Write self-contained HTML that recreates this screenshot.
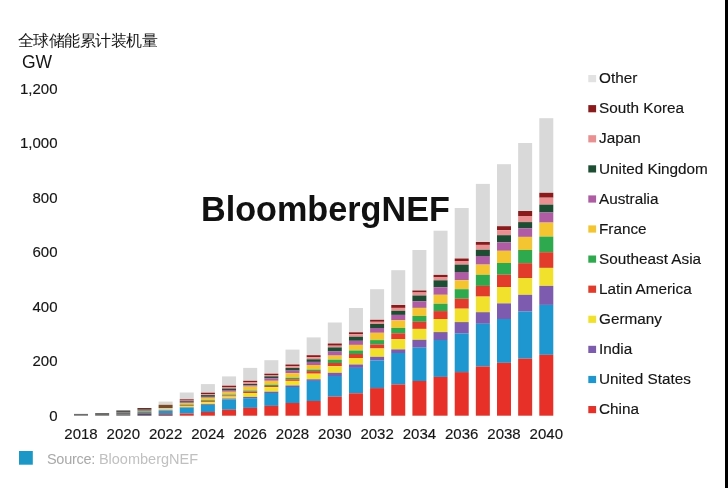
<!DOCTYPE html>
<html><head><meta charset="utf-8">
<style>
html,body{margin:0;padding:0;background:#fff;}
body{width:728px;height:488px;overflow:hidden;position:relative;font-family:"Liberation Sans",sans-serif;}
svg{position:absolute;left:0;top:0;}
.ax{font-family:"Liberation Sans",sans-serif;font-size:15px;fill:#151515;stroke:#151515;stroke-width:0.15px;}
.lg{font-family:"Liberation Sans",sans-serif;font-size:15.3px;fill:#151515;stroke:#151515;stroke-width:0.15px;}
</style></head><body>
<svg width="728" height="488" viewBox="0 0 728 488">
<defs>
<filter id="jpg" x="-20" y="-20" width="768" height="528" filterUnits="userSpaceOnUse" color-interpolation-filters="sRGB">
<feColorMatrix in="SourceGraphic" type="matrix" values="0.299 0.587 0.114 0 0 0 0 0 0 0 0 0 0 0 0 0 0 0 1 0" result="Y"/>
<feGaussianBlur in="Y" stdDeviation="0.45" result="Yb"/>
<feColorMatrix in="SourceGraphic" type="matrix" values="0 0 0 0 0 -0.1687 -0.3313 0.5 0 0.5 0.5 -0.4187 -0.0813 0 0.5 0 0 0 1 0" result="C"/>
<feGaussianBlur in="C" stdDeviation="1.2" result="Cb"/>
<feComposite in="Yb" in2="Cb" operator="arithmetic" k1="0" k2="1" k3="1" k4="0" result="YCC"/>
<feColorMatrix in="YCC" type="matrix" values="1 0 1.402 0 -0.70375 1 -0.344 -0.714 0 0.53107 1 1.772 0 0 -0.88947 0 0 0 1 0"/>
</filter>
</defs>
<g filter="url(#jpg)">
<rect x="-20" y="-20" width="768" height="528" fill="#fff"/>
<text x="17.8" y="46" style="font-family:'Liberation Sans',sans-serif;font-size:16px;letter-spacing:-0.5px;font-weight:300;fill:#151515">全球储能累计装机量</text>
<text x="22" y="67.8" style="font-family:'Liberation Sans',sans-serif;font-size:17.5px;fill:#151515">GW</text>
<text x="57.5" y="420.8" text-anchor="end" class="ax">0</text><text x="57.5" y="366.3" text-anchor="end" class="ax">200</text><text x="57.5" y="311.8" text-anchor="end" class="ax">400</text><text x="57.5" y="257.2" text-anchor="end" class="ax">600</text><text x="57.5" y="202.7" text-anchor="end" class="ax">800</text><text x="57.5" y="148.2" text-anchor="end" class="ax">1,000</text><text x="57.5" y="93.7" text-anchor="end" class="ax">1,200</text>
<rect x="179.75" y="392.50" width="14" height="6.80" fill="#d9d9d9"/><rect x="179.75" y="399.30" width="14" height="1.30" fill="#8b1a1e"/><rect x="179.75" y="400.60" width="14" height="0.60" fill="#ea8f92"/><rect x="179.75" y="401.20" width="14" height="0.90" fill="#1e4d35"/><rect x="179.75" y="402.10" width="14" height="0.90" fill="#b05ca5"/><rect x="179.75" y="403.00" width="14" height="1.50" fill="#f5c431"/><rect x="179.75" y="404.50" width="14" height="0.80" fill="#2fa84f"/><rect x="179.75" y="405.30" width="14" height="0.70" fill="#e33a2c"/><rect x="179.75" y="406.00" width="14" height="1.20" fill="#f3e02e"/><rect x="179.75" y="407.20" width="14" height="0.40" fill="#7d5bb0"/><rect x="179.75" y="407.60" width="14" height="6.00" fill="#1f96d0"/><rect x="179.75" y="413.60" width="14" height="2.10" fill="#e8302a"/><rect x="200.90" y="384.10" width="14" height="8.60" fill="#d9d9d9"/><rect x="200.90" y="392.70" width="14" height="1.50" fill="#8b1a1e"/><rect x="200.90" y="394.20" width="14" height="0.90" fill="#ea8f92"/><rect x="200.90" y="395.10" width="14" height="1.70" fill="#1e4d35"/><rect x="200.90" y="396.80" width="14" height="1.00" fill="#b05ca5"/><rect x="200.90" y="397.80" width="14" height="2.40" fill="#f5c431"/><rect x="200.90" y="400.20" width="14" height="1.00" fill="#2fa84f"/><rect x="200.90" y="401.20" width="14" height="1.00" fill="#e33a2c"/><rect x="200.90" y="402.20" width="14" height="1.80" fill="#f3e02e"/><rect x="200.90" y="404.00" width="14" height="0.80" fill="#7d5bb0"/><rect x="200.90" y="404.80" width="14" height="7.20" fill="#1f96d0"/><rect x="200.90" y="412.00" width="14" height="3.70" fill="#e8302a"/><rect x="222.05" y="376.40" width="14" height="9.30" fill="#d9d9d9"/><rect x="222.05" y="385.70" width="14" height="1.30" fill="#8b1a1e"/><rect x="222.05" y="387.00" width="14" height="1.50" fill="#ea8f92"/><rect x="222.05" y="388.50" width="14" height="1.50" fill="#1e4d35"/><rect x="222.05" y="390.00" width="14" height="1.80" fill="#b05ca5"/><rect x="222.05" y="391.80" width="14" height="2.70" fill="#f5c431"/><rect x="222.05" y="394.50" width="14" height="1.00" fill="#2fa84f"/><rect x="222.05" y="395.50" width="14" height="1.00" fill="#e33a2c"/><rect x="222.05" y="396.50" width="14" height="2.00" fill="#f3e02e"/><rect x="222.05" y="398.50" width="14" height="1.00" fill="#7d5bb0"/><rect x="222.05" y="399.50" width="14" height="10.30" fill="#1f96d0"/><rect x="222.05" y="409.80" width="14" height="5.90" fill="#e8302a"/><rect x="243.20" y="367.90" width="14" height="12.90" fill="#d9d9d9"/><rect x="243.20" y="380.80" width="14" height="1.60" fill="#8b1a1e"/><rect x="243.20" y="382.40" width="14" height="1.60" fill="#ea8f92"/><rect x="243.20" y="384.00" width="14" height="1.30" fill="#1e4d35"/><rect x="243.20" y="385.30" width="14" height="1.30" fill="#b05ca5"/><rect x="243.20" y="386.60" width="14" height="3.90" fill="#f5c431"/><rect x="243.20" y="390.50" width="14" height="1.20" fill="#2fa84f"/><rect x="243.20" y="391.70" width="14" height="1.30" fill="#e33a2c"/><rect x="243.20" y="393.00" width="14" height="3.90" fill="#f3e02e"/><rect x="243.20" y="396.90" width="14" height="1.30" fill="#7d5bb0"/><rect x="243.20" y="398.20" width="14" height="9.70" fill="#1f96d0"/><rect x="243.20" y="407.90" width="14" height="7.80" fill="#e8302a"/><rect x="264.35" y="360.20" width="14" height="13.50" fill="#d9d9d9"/><rect x="264.35" y="373.70" width="14" height="1.30" fill="#8b1a1e"/><rect x="264.35" y="375.00" width="14" height="1.30" fill="#ea8f92"/><rect x="264.35" y="376.30" width="14" height="1.90" fill="#1e4d35"/><rect x="264.35" y="378.20" width="14" height="2.60" fill="#b05ca5"/><rect x="264.35" y="380.80" width="14" height="3.90" fill="#f5c431"/><rect x="264.35" y="384.70" width="14" height="1.30" fill="#2fa84f"/><rect x="264.35" y="386.00" width="14" height="1.20" fill="#e33a2c"/><rect x="264.35" y="387.20" width="14" height="4.50" fill="#f3e02e"/><rect x="264.35" y="391.70" width="14" height="1.30" fill="#7d5bb0"/><rect x="264.35" y="393.00" width="14" height="12.90" fill="#1f96d0"/><rect x="264.35" y="405.90" width="14" height="9.80" fill="#e8302a"/><rect x="285.50" y="349.60" width="14" height="14.90" fill="#d9d9d9"/><rect x="285.50" y="364.50" width="14" height="1.80" fill="#8b1a1e"/><rect x="285.50" y="366.30" width="14" height="1.70" fill="#ea8f92"/><rect x="285.50" y="368.00" width="14" height="2.60" fill="#1e4d35"/><rect x="285.50" y="370.60" width="14" height="2.60" fill="#b05ca5"/><rect x="285.50" y="373.20" width="14" height="4.60" fill="#f5c431"/><rect x="285.50" y="377.80" width="14" height="1.50" fill="#2fa84f"/><rect x="285.50" y="379.30" width="14" height="1.60" fill="#e33a2c"/><rect x="285.50" y="380.90" width="14" height="4.60" fill="#f3e02e"/><rect x="285.50" y="385.50" width="14" height="1.50" fill="#7d5bb0"/><rect x="285.50" y="387.00" width="14" height="16.00" fill="#1f96d0"/><rect x="285.50" y="403.00" width="14" height="12.70" fill="#e8302a"/><rect x="306.65" y="337.40" width="14" height="17.80" fill="#d9d9d9"/><rect x="306.65" y="355.20" width="14" height="2.00" fill="#8b1a1e"/><rect x="306.65" y="357.20" width="14" height="2.10" fill="#ea8f92"/><rect x="306.65" y="359.30" width="14" height="2.60" fill="#1e4d35"/><rect x="306.65" y="361.90" width="14" height="3.10" fill="#b05ca5"/><rect x="306.65" y="365.00" width="14" height="4.60" fill="#f5c431"/><rect x="306.65" y="369.60" width="14" height="1.50" fill="#2fa84f"/><rect x="306.65" y="371.10" width="14" height="2.60" fill="#e33a2c"/><rect x="306.65" y="373.70" width="14" height="5.60" fill="#f3e02e"/><rect x="306.65" y="379.30" width="14" height="1.60" fill="#7d5bb0"/><rect x="306.65" y="380.90" width="14" height="20.10" fill="#1f96d0"/><rect x="306.65" y="401.00" width="14" height="14.70" fill="#e8302a"/><rect x="327.80" y="322.50" width="14" height="21.00" fill="#d9d9d9"/><rect x="327.80" y="343.50" width="14" height="2.20" fill="#8b1a1e"/><rect x="327.80" y="345.70" width="14" height="1.70" fill="#ea8f92"/><rect x="327.80" y="347.40" width="14" height="4.10" fill="#1e4d35"/><rect x="327.80" y="351.50" width="14" height="4.10" fill="#b05ca5"/><rect x="327.80" y="355.60" width="14" height="4.10" fill="#f5c431"/><rect x="327.80" y="359.70" width="14" height="3.30" fill="#2fa84f"/><rect x="327.80" y="363.00" width="14" height="3.20" fill="#e33a2c"/><rect x="327.80" y="366.20" width="14" height="6.60" fill="#f3e02e"/><rect x="327.80" y="372.80" width="14" height="3.20" fill="#7d5bb0"/><rect x="327.80" y="376.00" width="14" height="20.60" fill="#1f96d0"/><rect x="327.80" y="396.60" width="14" height="19.10" fill="#e8302a"/><rect x="348.95" y="308.00" width="14" height="24.30" fill="#d9d9d9"/><rect x="348.95" y="332.30" width="14" height="2.00" fill="#8b1a1e"/><rect x="348.95" y="334.30" width="14" height="2.40" fill="#ea8f92"/><rect x="348.95" y="336.70" width="14" height="4.10" fill="#1e4d35"/><rect x="348.95" y="340.80" width="14" height="4.10" fill="#b05ca5"/><rect x="348.95" y="344.90" width="14" height="5.60" fill="#f5c431"/><rect x="348.95" y="350.50" width="14" height="3.50" fill="#2fa84f"/><rect x="348.95" y="354.00" width="14" height="4.00" fill="#e33a2c"/><rect x="348.95" y="358.00" width="14" height="6.50" fill="#f3e02e"/><rect x="348.95" y="364.50" width="14" height="3.40" fill="#7d5bb0"/><rect x="348.95" y="367.90" width="14" height="25.40" fill="#1f96d0"/><rect x="348.95" y="393.30" width="14" height="22.40" fill="#e8302a"/><rect x="370.10" y="289.20" width="14" height="30.60" fill="#d9d9d9"/><rect x="370.10" y="319.80" width="14" height="2.00" fill="#8b1a1e"/><rect x="370.10" y="321.80" width="14" height="2.20" fill="#ea8f92"/><rect x="370.10" y="324.00" width="14" height="4.00" fill="#1e4d35"/><rect x="370.10" y="328.00" width="14" height="4.80" fill="#b05ca5"/><rect x="370.10" y="332.80" width="14" height="7.30" fill="#f5c431"/><rect x="370.10" y="340.10" width="14" height="4.30" fill="#2fa84f"/><rect x="370.10" y="344.40" width="14" height="4.10" fill="#e33a2c"/><rect x="370.10" y="348.50" width="14" height="8.30" fill="#f3e02e"/><rect x="370.10" y="356.80" width="14" height="3.60" fill="#7d5bb0"/><rect x="370.10" y="360.40" width="14" height="27.70" fill="#1f96d0"/><rect x="370.10" y="388.10" width="14" height="27.60" fill="#e8302a"/><rect x="391.25" y="270.20" width="14" height="34.80" fill="#d9d9d9"/><rect x="391.25" y="305.00" width="14" height="2.90" fill="#8b1a1e"/><rect x="391.25" y="307.90" width="14" height="2.90" fill="#ea8f92"/><rect x="391.25" y="310.80" width="14" height="4.10" fill="#1e4d35"/><rect x="391.25" y="314.90" width="14" height="5.40" fill="#b05ca5"/><rect x="391.25" y="320.30" width="14" height="7.70" fill="#f5c431"/><rect x="391.25" y="328.00" width="14" height="5.30" fill="#2fa84f"/><rect x="391.25" y="333.30" width="14" height="5.90" fill="#e33a2c"/><rect x="391.25" y="339.20" width="14" height="10.20" fill="#f3e02e"/><rect x="391.25" y="349.40" width="14" height="3.60" fill="#7d5bb0"/><rect x="391.25" y="353.00" width="14" height="31.40" fill="#1f96d0"/><rect x="391.25" y="384.40" width="14" height="31.30" fill="#e8302a"/><rect x="412.40" y="250.00" width="14" height="40.50" fill="#d9d9d9"/><rect x="412.40" y="290.50" width="14" height="2.00" fill="#8b1a1e"/><rect x="412.40" y="292.50" width="14" height="3.00" fill="#ea8f92"/><rect x="412.40" y="295.50" width="14" height="5.80" fill="#1e4d35"/><rect x="412.40" y="301.30" width="14" height="6.60" fill="#b05ca5"/><rect x="412.40" y="307.90" width="14" height="8.10" fill="#f5c431"/><rect x="412.40" y="316.00" width="14" height="5.80" fill="#2fa84f"/><rect x="412.40" y="321.80" width="14" height="7.10" fill="#e33a2c"/><rect x="412.40" y="328.90" width="14" height="10.90" fill="#f3e02e"/><rect x="412.40" y="339.80" width="14" height="7.90" fill="#7d5bb0"/><rect x="412.40" y="347.70" width="14" height="33.30" fill="#1f96d0"/><rect x="412.40" y="381.00" width="14" height="34.70" fill="#e8302a"/><rect x="433.55" y="230.70" width="14" height="44.20" fill="#d9d9d9"/><rect x="433.55" y="274.90" width="14" height="2.50" fill="#8b1a1e"/><rect x="433.55" y="277.40" width="14" height="2.90" fill="#ea8f92"/><rect x="433.55" y="280.30" width="14" height="7.00" fill="#1e4d35"/><rect x="433.55" y="287.30" width="14" height="7.50" fill="#b05ca5"/><rect x="433.55" y="294.80" width="14" height="9.00" fill="#f5c431"/><rect x="433.55" y="303.80" width="14" height="7.30" fill="#2fa84f"/><rect x="433.55" y="311.10" width="14" height="7.90" fill="#e33a2c"/><rect x="433.55" y="319.00" width="14" height="13.10" fill="#f3e02e"/><rect x="433.55" y="332.10" width="14" height="7.90" fill="#7d5bb0"/><rect x="433.55" y="340.00" width="14" height="36.90" fill="#1f96d0"/><rect x="433.55" y="376.90" width="14" height="38.80" fill="#e8302a"/><rect x="454.70" y="208.00" width="14" height="50.50" fill="#d9d9d9"/><rect x="454.70" y="258.50" width="14" height="2.50" fill="#8b1a1e"/><rect x="454.70" y="261.00" width="14" height="3.60" fill="#ea8f92"/><rect x="454.70" y="264.60" width="14" height="7.40" fill="#1e4d35"/><rect x="454.70" y="272.00" width="14" height="8.20" fill="#b05ca5"/><rect x="454.70" y="280.20" width="14" height="9.00" fill="#f5c431"/><rect x="454.70" y="289.20" width="14" height="9.50" fill="#2fa84f"/><rect x="454.70" y="298.70" width="14" height="10.00" fill="#e33a2c"/><rect x="454.70" y="308.70" width="14" height="13.40" fill="#f3e02e"/><rect x="454.70" y="322.10" width="14" height="11.50" fill="#7d5bb0"/><rect x="454.70" y="333.60" width="14" height="38.50" fill="#1f96d0"/><rect x="454.70" y="372.10" width="14" height="43.60" fill="#e8302a"/><rect x="475.85" y="183.90" width="14" height="58.10" fill="#d9d9d9"/><rect x="475.85" y="242.00" width="14" height="2.90" fill="#8b1a1e"/><rect x="475.85" y="244.90" width="14" height="4.90" fill="#ea8f92"/><rect x="475.85" y="249.80" width="14" height="6.20" fill="#1e4d35"/><rect x="475.85" y="256.00" width="14" height="8.60" fill="#b05ca5"/><rect x="475.85" y="264.60" width="14" height="10.20" fill="#f5c431"/><rect x="475.85" y="274.80" width="14" height="11.10" fill="#2fa84f"/><rect x="475.85" y="285.90" width="14" height="10.70" fill="#e33a2c"/><rect x="475.85" y="296.60" width="14" height="15.60" fill="#f3e02e"/><rect x="475.85" y="312.20" width="14" height="11.60" fill="#7d5bb0"/><rect x="475.85" y="323.80" width="14" height="42.60" fill="#1f96d0"/><rect x="475.85" y="366.40" width="14" height="49.30" fill="#e8302a"/><rect x="497.00" y="164.20" width="14" height="62.00" fill="#d9d9d9"/><rect x="497.00" y="226.20" width="14" height="4.10" fill="#8b1a1e"/><rect x="497.00" y="230.30" width="14" height="4.90" fill="#ea8f92"/><rect x="497.00" y="235.20" width="14" height="7.10" fill="#1e4d35"/><rect x="497.00" y="242.30" width="14" height="8.50" fill="#b05ca5"/><rect x="497.00" y="250.80" width="14" height="12.20" fill="#f5c431"/><rect x="497.00" y="263.00" width="14" height="11.70" fill="#2fa84f"/><rect x="497.00" y="274.70" width="14" height="12.30" fill="#e33a2c"/><rect x="497.00" y="287.00" width="14" height="16.40" fill="#f3e02e"/><rect x="497.00" y="303.40" width="14" height="15.60" fill="#7d5bb0"/><rect x="497.00" y="319.00" width="14" height="43.80" fill="#1f96d0"/><rect x="497.00" y="362.80" width="14" height="52.90" fill="#e8302a"/><rect x="518.15" y="143.00" width="14" height="68.00" fill="#d9d9d9"/><rect x="518.15" y="211.00" width="14" height="5.00" fill="#8b1a1e"/><rect x="518.15" y="216.00" width="14" height="6.10" fill="#ea8f92"/><rect x="518.15" y="222.10" width="14" height="6.10" fill="#1e4d35"/><rect x="518.15" y="228.20" width="14" height="8.70" fill="#b05ca5"/><rect x="518.15" y="236.90" width="14" height="13.10" fill="#f5c431"/><rect x="518.15" y="250.00" width="14" height="13.20" fill="#2fa84f"/><rect x="518.15" y="263.20" width="14" height="14.80" fill="#e33a2c"/><rect x="518.15" y="278.00" width="14" height="16.80" fill="#f3e02e"/><rect x="518.15" y="294.80" width="14" height="16.80" fill="#7d5bb0"/><rect x="518.15" y="311.60" width="14" height="47.00" fill="#1f96d0"/><rect x="518.15" y="358.60" width="14" height="57.10" fill="#e8302a"/><rect x="539.30" y="118.20" width="14" height="74.60" fill="#d9d9d9"/><rect x="539.30" y="192.80" width="14" height="4.90" fill="#8b1a1e"/><rect x="539.30" y="197.70" width="14" height="6.90" fill="#ea8f92"/><rect x="539.30" y="204.60" width="14" height="7.90" fill="#1e4d35"/><rect x="539.30" y="212.50" width="14" height="10.10" fill="#b05ca5"/><rect x="539.30" y="222.60" width="14" height="14.00" fill="#f5c431"/><rect x="539.30" y="236.60" width="14" height="15.60" fill="#2fa84f"/><rect x="539.30" y="252.20" width="14" height="15.70" fill="#e33a2c"/><rect x="539.30" y="267.90" width="14" height="18.00" fill="#f3e02e"/><rect x="539.30" y="285.90" width="14" height="19.00" fill="#7d5bb0"/><rect x="539.30" y="304.90" width="14" height="49.90" fill="#1f96d0"/><rect x="539.30" y="354.80" width="14" height="60.90" fill="#e8302a"/><rect x="74.00" y="413.9" width="14" height="1.80" fill="#6e6e6e"/><rect x="95.15" y="413.0" width="14" height="2.70" fill="#6c6c6c"/><rect x="116.30" y="410.4" width="14" height="2.20" fill="#575353"/><rect x="116.30" y="412.6" width="14" height="1.60" fill="#6e6e6e"/><rect x="116.30" y="414.2" width="14" height="1.50" fill="#666666"/><rect x="137.45" y="408.0" width="14" height="1.80" fill="#6b2e2a"/><rect x="137.45" y="409.8" width="14" height="1.80" fill="#8a8a82"/><rect x="137.45" y="411.6" width="14" height="1.70" fill="#6f8a72"/><rect x="137.45" y="413.3" width="14" height="2.40" fill="#5a4a6a"/><rect x="158.60" y="401.6" width="14" height="3.20" fill="#ddd6d2"/><rect x="158.60" y="404.8" width="14" height="3.20" fill="#7a4a2a"/><rect x="158.60" y="408.0" width="14" height="2.30" fill="#d8d2aa"/><rect x="158.60" y="410.3" width="14" height="4.00" fill="#4a88b0"/><rect x="158.60" y="414.3" width="14" height="1.40" fill="#7a3050"/>
<text x="81.00" y="438.6" text-anchor="middle" class="ax">2018</text><text x="123.30" y="438.6" text-anchor="middle" class="ax">2020</text><text x="165.60" y="438.6" text-anchor="middle" class="ax">2022</text><text x="207.90" y="438.6" text-anchor="middle" class="ax">2024</text><text x="250.20" y="438.6" text-anchor="middle" class="ax">2026</text><text x="292.50" y="438.6" text-anchor="middle" class="ax">2028</text><text x="334.80" y="438.6" text-anchor="middle" class="ax">2030</text><text x="377.10" y="438.6" text-anchor="middle" class="ax">2032</text><text x="419.40" y="438.6" text-anchor="middle" class="ax">2034</text><text x="461.70" y="438.6" text-anchor="middle" class="ax">2036</text><text x="504.00" y="438.6" text-anchor="middle" class="ax">2038</text><text x="546.30" y="438.6" text-anchor="middle" class="ax">2040</text>
<rect x="588.3" y="75.0" width="7.8" height="7.2" fill="#e2e2e2"/><text x="599" y="83.2" class="lg">Other</text><rect x="588.3" y="105.1" width="7.8" height="7.2" fill="#8b1a1e"/><text x="599" y="113.3" class="lg">South Korea</text><rect x="588.3" y="135.2" width="7.8" height="7.2" fill="#ea8f92"/><text x="599" y="143.4" class="lg">Japan</text><rect x="588.3" y="165.3" width="7.8" height="7.2" fill="#1e4d35"/><text x="599" y="173.5" class="lg">United Kingdom</text><rect x="588.3" y="195.4" width="7.8" height="7.2" fill="#b05ca5"/><text x="599" y="203.6" class="lg">Australia</text><rect x="588.3" y="225.4" width="7.8" height="7.2" fill="#f5c431"/><text x="599" y="233.6" class="lg">France</text><rect x="588.3" y="255.5" width="7.8" height="7.2" fill="#2fa84f"/><text x="599" y="263.7" class="lg">Southeast Asia</text><rect x="588.3" y="285.6" width="7.8" height="7.2" fill="#e33a2c"/><text x="599" y="293.8" class="lg">Latin America</text><rect x="588.3" y="315.7" width="7.8" height="7.2" fill="#f3e02e"/><text x="599" y="323.9" class="lg">Germany</text><rect x="588.3" y="345.8" width="7.8" height="7.2" fill="#7d5bb0"/><text x="599" y="354.0" class="lg">India</text><rect x="588.3" y="375.9" width="7.8" height="7.2" fill="#1f96d0"/><text x="599" y="384.1" class="lg">United States</text><rect x="588.3" y="406.0" width="7.8" height="7.2" fill="#e8302a"/><text x="599" y="414.2" class="lg">China</text>
<text x="201" y="220.8" style="font-family:'Liberation Sans',sans-serif;font-size:34.2px;font-weight:bold;fill:#111">BloombergNEF</text>
<rect x="19" y="451" width="13.8" height="13.7" fill="#1d97c6"/>
<text x="47" y="463.5" style="font-family:'Liberation Sans',sans-serif;font-size:14.5px;fill:#c0c0c0"><tspan style="fill:#a9a9a9;letter-spacing:-0.3px">Source:</tspan> BloombergNEF</text>
<rect x="725" y="-20" width="30" height="528" fill="#000"/>
</g>
</svg>
</body></html>
